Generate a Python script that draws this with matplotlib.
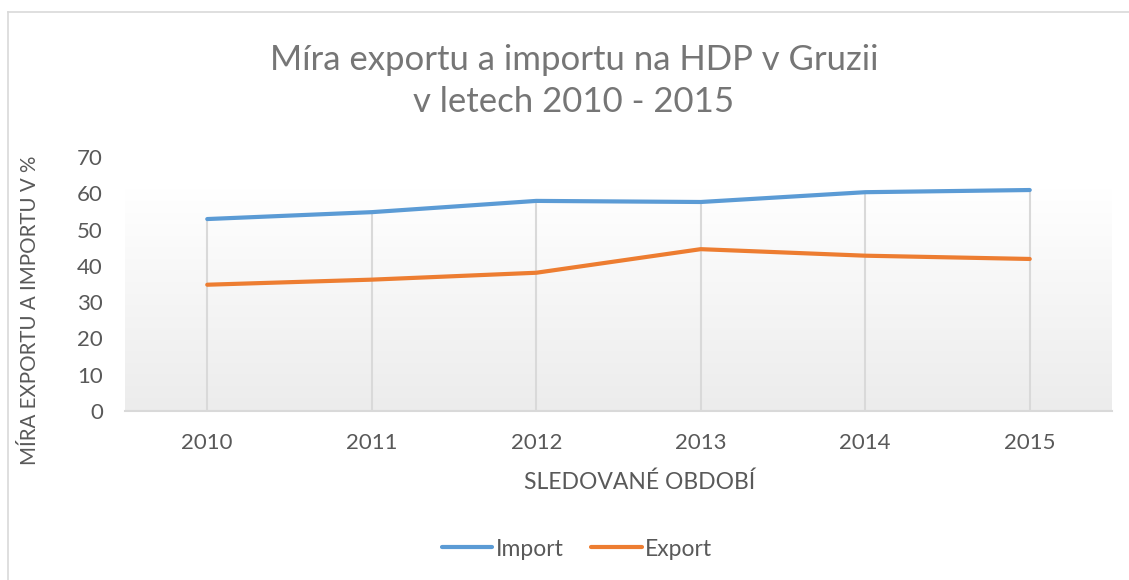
import matplotlib
matplotlib.use('Agg')
import matplotlib.pyplot as plt
import numpy as np
from matplotlib.lines import Line2D

plt.rcParams['font.family'] = ['Lato', 'DejaVu Sans']

years = ['2010', '2011', '2012', '2013', '2014', '2015']
import_vals = [52.9, 54.8, 57.9, 57.6, 60.3, 60.9]
export_vals = [34.8, 36.2, 38.1, 44.6, 42.8, 41.9]

blue = '#5B9BD5'
orange = '#ED7D31'
text_col = '#595959'

fig = plt.figure(figsize=(11.29, 5.8), dpi=100)

# chart border (left and top visible)
fig.add_artist(Line2D([8/1129, 8/1129], [0, 1 - 12/580], color='#d9d9d9', lw=1.2))
fig.add_artist(Line2D([8/1129, 1], [1 - 12/580, 1 - 12/580], color='#d9d9d9', lw=1.2))

ax = fig.add_axes([125/1129, 169/580, 987/1129, 254/580])
x = np.arange(len(years))

# plot area gradient
grad = np.linspace(0.925, 1.0, 256).reshape(-1, 1)
grad = np.dstack([grad, grad, grad])
ax.imshow(grad, extent=(-0.5, 5.5, 0, 61), origin='lower', aspect='auto', zorder=0)

# drop lines
ax.vlines(x, 0, np.maximum(import_vals, export_vals), color='#d9d9d9', lw=1.5, zorder=1)

ax.plot(x, import_vals, color=blue, lw=3, solid_capstyle='round', zorder=3)
ax.plot(x, export_vals, color=orange, lw=3, solid_capstyle='round', zorder=3)

ax.set_xlim(-0.5, 5.5)
ax.set_ylim(0, 70)
ax.set_yticks(range(0, 71, 10))
ax.set_xticks(x)
ax.set_xticklabels(years)
ax.tick_params(length=0, labelsize=16, colors=text_col)
ax.tick_params(axis='x', pad=16)
ax.tick_params(axis='y', pad=16)
for s in ['top', 'right', 'left']:
    ax.spines[s].set_visible(False)
ax.spines['bottom'].set_color('#d9d9d9')
ax.spines['bottom'].set_linewidth(1.5)
ax.set_facecolor('white')

fig.text(574/1129, 1 - 81/580, 'Míra exportu a importu na HDP v Gruzii\nv letech 2010 - 2015',
         ha='center', va='center', fontsize=25, color='#767676', linespacing=1.35)
fig.text(640/1129, 1 - 482/580, 'SLEDOVANÉ OBDOBÍ', ha='center', va='center',
         fontsize=16.5, color=text_col)
fig.text(30/1129, 1 - 310/580, 'MÍRA EXPORTU A IMPORTU V %', ha='center', va='center',
         rotation=90, fontsize=14.8, color=text_col)

handles = [Line2D([], [], color=blue, lw=3, solid_capstyle='round'),
           Line2D([], [], color=orange, lw=3, solid_capstyle='round')]
fig.legend(handles, ['Import', 'Export'], loc='center', bbox_to_anchor=(577/1129, 1 - 549/580),
           ncol=2, frameon=False, fontsize=16.5, labelcolor=text_col, handlelength=2.2,
           handletextpad=0.15, columnspacing=1.2)

fig.savefig('out.png', dpi=100)
